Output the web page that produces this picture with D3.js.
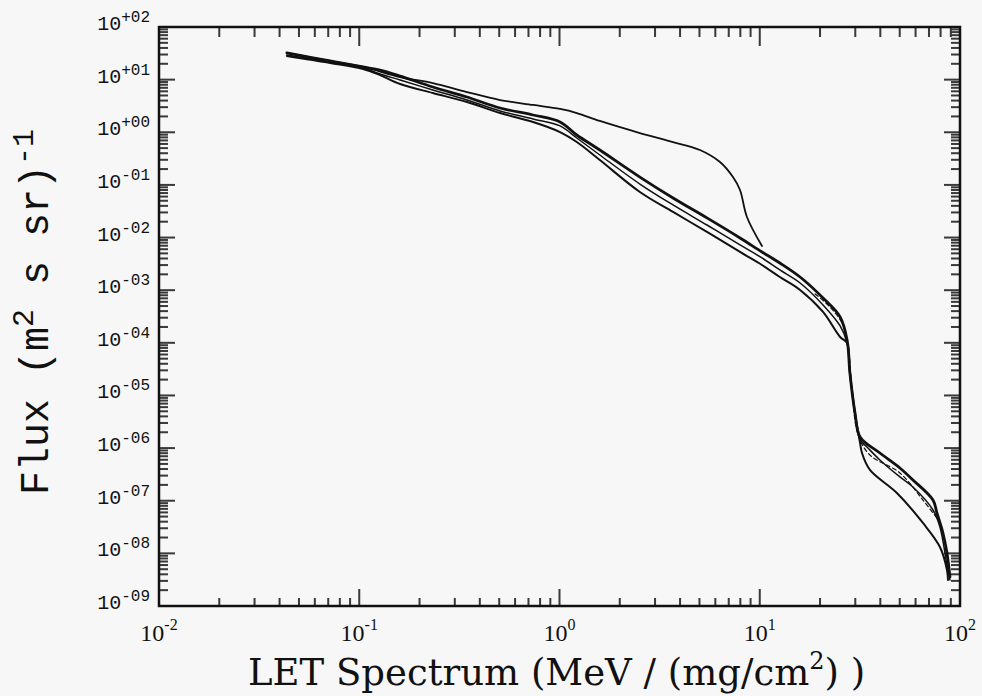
<!DOCTYPE html>
<html>
<head>
<meta charset="utf-8">
<script src="https://cdn.jsdelivr.net/npm/d3@7"></script>
<style>
  html, body { margin: 0; padding: 0; background: #f7f7f7; }
  svg { display: block; }
</style>
</head>
<body>
<svg id="chart" width="982" height="696"></svg>
<script>
// ---- Axis tick decades and their labels ----
const xTickExps = [-2, -1, 0, 1, 2];
const xTickLabels = ["-2", "-1", "0", "1", "2"];
const yTickExps = [2, 1, 0, -1, -2, -3, -4, -5, -6, -7, -8, -9];
const yTickLabels = ["+02", "+01", "+00", "-01", "-02", "-03", "-04", "-05", "-06", "-07", "-08", "-09"];

// ---- Upper spectrum (single line, cut off near 10 MeV/(mg/cm2)) ----
const letUpper  = [0.0435, 0.0715, 0.1045, 0.160, 0.233, 0.345, 0.505, 0.738, 1.006, 1.22, 1.59, 2.52, 3.69, 5.03, 6.33, 7.35, 7.97, 8.63, 10.26];
const fluxUpper = [32.1, 22.6, 17.4, 11.2, 8.63, 5.82, 4.10, 3.30, 2.77, 2.32, 1.64, 0.968, 0.653, 0.460, 0.272, 0.141, 0.080, 0.0246, 0.00692];

// ---- Band of spectra: upper edge (heavy line) ----
const letBandTop  = [0.0435, 0.0715, 0.1045, 0.127, 0.160, 0.233, 0.345, 0.505, 0.738, 1.006, 1.22, 1.59, 2.52, 3.69, 5.45, 7.97, 10.26, 12.6, 15.9, 20.7, 25.2, 27.3, 28.2, 29.9, 31.7, 39.8, 50.1, 58.2, 73.3, 76.7, 82.2, 86.1, 89.1];
const fluxBandTop = [32.1, 22.6, 17.4, 15.2, 11.7, 7.24, 4.68, 2.89, 2.13, 1.57, 0.887, 0.460, 0.141, 0.0565, 0.0236, 0.00982, 0.00532, 0.00329, 0.00178, 0.000711, 0.000310, 1.13e-4, 2.67e-5, 4.65e-6, 1.63e-6, 8.07e-7, 4.19e-7, 2.48e-7, 1.03e-7, 5.86e-8, 2.44e-8, 1.02e-8, 3.56e-9];

// ---- Band of spectra: middle line ----
const letBandMid  = [0.0435, 0.0715, 0.1045, 0.127, 0.160, 0.233, 0.345, 0.505, 0.738, 1.006, 1.22, 1.59, 2.52, 3.69, 5.45, 7.97, 10.26, 12.6, 15.9, 20.7, 25.2, 27.3, 28.2, 29.9, 31.7, 34.3, 39.8, 50.1, 58.2, 73.3, 79.4, 86.1, 89.1];
const fluxBandMid = [29.4, 21.6, 16.6, 12.8, 9.84, 6.36, 4.10, 2.54, 1.79, 1.32, 0.778, 0.370, 0.104, 0.0416, 0.0173, 0.00723, 0.00409, 0.00242, 0.00137, 0.000524, 0.000209, 9.93e-5, 2.67e-5, 4.65e-6, 1.43e-6, 1.05e-6, 5.95e-7, 2.83e-7, 1.82e-7, 6.67e-8, 3.18e-8, 6.03e-9, 3.13e-9];

// ---- Band of spectra: lower edge ----
const letBandLow  = [0.0435, 0.0715, 0.1045, 0.127, 0.160, 0.233, 0.345, 0.505, 0.738, 1.006, 1.22, 1.59, 2.52, 3.69, 5.45, 7.97, 10.26, 12.6, 15.9, 20.7, 25.2, 27.3, 28.2, 29.9, 31.7, 32.4, 35.5, 48.4, 65.3, 79.4, 86.1, 87.1];
const fluxBandLow = [28.1, 20.7, 15.9, 12.2, 8.26, 5.57, 3.76, 2.32, 1.57, 1.01, 0.653, 0.297, 0.0734, 0.0306, 0.0128, 0.00532, 0.00301, 0.00178, 0.00101, 0.000386, 0.000129, 9.93e-5, 2.67e-5, 4.65e-6, 1.25e-6, 8.07e-7, 3.84e-7, 1.40e-7, 3.78e-8, 1.32e-8, 4.84e-9, 3.13e-9];

// ---- Band of spectra: dashed line inside the band at high LET ----
const letBandDash  = [18.9, 22.4, 26.1, 27.6, 28.9, 31.0, 35.5, 50.1, 65.3, 79.4];
const fluxBandDash = [8.47e-4, 4.80e-4, 2.18e-4, 9.1e-5, 1.27e-5, 1.77e-6, 7.4e-7, 3.37e-7, 1.03e-7, 3.95e-8];

// ---- Layout ----
const plotL = 159, plotR = 960, plotT = 27, plotB = 606;
const ink = "#111111";
const tickInk = "#3a3a3a";

const svg = d3.select("#chart");

const x = d3.scaleLog().domain([1e-2, 1e2]).range([plotL, plotR]);
const y = d3.scaleLog().domain([1e-9, 1e2]).range([plotB, plotT]);

// ---- Inward log ticks on all four sides, drawn as thin filled bars ----
const xt = x.ticks(40);
const yt = y.ticks(40);
const isDecade = v => Math.abs(Math.log10(v) - Math.round(Math.log10(v))) < 1e-6;

const tickG = svg.append("g").attr("fill", tickInk);
// bottom
tickG.append("g").selectAll("rect").data(xt).join("rect")
  .attr("x", d => x(d) - 1).attr("width", 2)
  .attr("y", d => plotB - (isDecade(d) ? 17 : 8))
  .attr("height", d => isDecade(d) ? 17 : 8);
// top
tickG.append("g").selectAll("rect").data(xt).join("rect")
  .attr("x", d => x(d) - 1).attr("width", 2)
  .attr("y", plotT)
  .attr("height", d => isDecade(d) ? 19 : 10);
// left
tickG.append("g").selectAll("rect").data(yt).join("rect")
  .attr("y", d => y(d) - 1).attr("height", 2)
  .attr("x", plotL)
  .attr("width", d => isDecade(d) ? 16 : 9);
// right
tickG.append("g").selectAll("rect").data(yt).join("rect")
  .attr("y", d => y(d) - 1).attr("height", 2)
  .attr("x", d => plotR - (isDecade(d) ? 16 : 9))
  .attr("width", d => isDecade(d) ? 16 : 9);

// Frame
svg.append("rect")
  .attr("x", plotL).attr("y", plotT)
  .attr("width", plotR - plotL).attr("height", plotB - plotT)
  .attr("fill", "none").attr("stroke", ink).attr("stroke-width", 2.5);

// ---- Spectra ----
const line = d3.line()
  .x(d => x(d[0])).y(d => y(d[1]))
  .curve(d3.curveCatmullRom.alpha(0.5));

const series = [
  { xs: letBandLow,  ys: fluxBandLow,  width: 2.0, dash: null },
  { xs: letBandMid,  ys: fluxBandMid,  width: 1.5, dash: null },
  { xs: letBandDash, ys: fluxBandDash, width: 1.2, dash: "4,3" },
  { xs: letBandTop,  ys: fluxBandTop,  width: 2.8, dash: null },
  { xs: letUpper,    ys: fluxUpper,    width: 1.8, dash: null }
];

svg.append("g").selectAll("path")
  .data(series)
  .join("path")
  .attr("d", s => line(d3.zip(s.xs, s.ys)))
  .attr("fill", "none")
  .attr("stroke", ink)
  .attr("stroke-width", s => s.width)
  .attr("stroke-linejoin", "round")
  .attr("stroke-linecap", "round")
  .attr("stroke-dasharray", s => s.dash);

// ---- Tick labels ----
const yLab = svg.append("g")
  .attr("font-family", "'Liberation Mono', monospace")
  .attr("fill", ink);
yTickExps.forEach((e, i) => {
  const t = yLab.append("text")
    .attr("x", plotL - 9)
    .attr("y", y(Math.pow(10, e)) + 3)
    .attr("text-anchor", "end");
  t.append("tspan").attr("font-size", 20).text("10");
  t.append("tspan").attr("font-size", 16).attr("dy", -8).text(yTickLabels[i]);
});

const xLab = svg.append("g")
  .attr("font-family", "'Liberation Serif', serif")
  .attr("fill", ink);
xTickExps.forEach((e, i) => {
  const t = xLab.append("text")
    .attr("x", x(Math.pow(10, e)))
    .attr("y", 641)
    .attr("text-anchor", "middle");
  t.append("tspan").attr("font-size", 24).text("10");
  t.append("tspan").attr("font-size", 16).attr("dy", -11).text(xTickLabels[i]);
});

// ---- Axis titles ----
const xTitle = svg.append("text")
  .attr("x", 248).attr("y", 685)
  .attr("font-family", "'DejaVu Serif', serif")
  .attr("font-size", 37)
  .attr("fill", ink)
  .style("white-space", "pre");
xTitle.append("tspan").text("LET Spectrum (MeV / (mg/cm");
xTitle.append("tspan").attr("font-size", 24).attr("dy", -16).text("2");
xTitle.append("tspan").attr("dy", 16).text(") )");

const yTitle = svg.append("text")
  .attr("transform", "translate(48,312) rotate(-90)")
  .attr("text-anchor", "middle")
  .attr("font-family", "'Liberation Mono', monospace")
  .attr("font-size", 40)
  .attr("fill", ink)
  .style("white-space", "pre");
yTitle.append("tspan").text("Flux (m");
yTitle.append("tspan").attr("font-size", 30).attr("dy", -15).text("2");
yTitle.append("tspan").attr("dy", 15).text(" s sr)");
yTitle.append("tspan").attr("font-size", 30).attr("dy", -15).text("-1");
</script>
</body>
</html>
